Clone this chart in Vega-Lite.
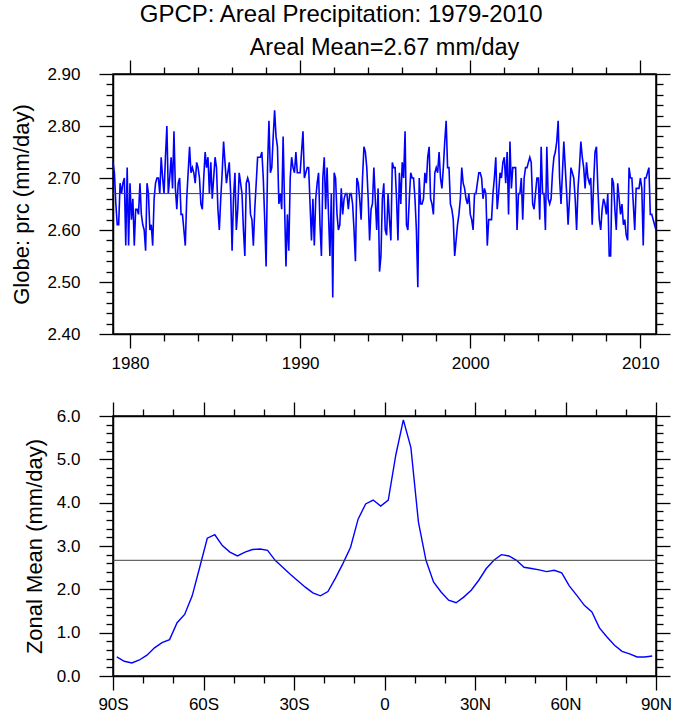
{
  "$schema": "https://vega.github.io/schema/vega-lite/v6.json",
  "padding": {"left": 10, "top": 3, "right": 20, "bottom": 5},
  "title": {"text": "GPCP: Areal Precipitation: 1979-2010", "fontSize": 24, "fontWeight": "normal", "font": "Liberation Sans", "color": "black", "anchor": "middle", "dx": 0, "offset": 8},
  "datasets": {
    "ts": [
      {"t":1979,"prc":2.73},{"t":1979.083,"prc":2.71},{"t":1979.167,"prc":2.65},{"t":1979.25,"prc":2.61},{"t":1979.333,"prc":2.61},{"t":1979.417,"prc":2.69},{"t":1979.5,"prc":2.67},{"t":1979.583,"prc":2.69},{"t":1979.667,"prc":2.70},{"t":1979.75,"prc":2.57},{"t":1979.833,"prc":2.72},{"t":1979.917,"prc":2.57},
      {"t":1980,"prc":2.69},{"t":1980.083,"prc":2.62},{"t":1980.167,"prc":2.66},{"t":1980.25,"prc":2.57},{"t":1980.333,"prc":2.64},{"t":1980.417,"prc":2.64},{"t":1980.5,"prc":2.63},{"t":1980.583,"prc":2.69},{"t":1980.667,"prc":2.63},{"t":1980.75,"prc":2.61},{"t":1980.833,"prc":2.60},{"t":1980.917,"prc":2.56},
      {"t":1981,"prc":2.69},{"t":1981.083,"prc":2.67},{"t":1981.167,"prc":2.60},{"t":1981.25,"prc":2.61},{"t":1981.333,"prc":2.57},{"t":1981.417,"prc":2.66},{"t":1981.5,"prc":2.69},{"t":1981.583,"prc":2.70},{"t":1981.667,"prc":2.70},{"t":1981.75,"prc":2.67},{"t":1981.833,"prc":2.74},{"t":1981.917,"prc":2.70},
      {"t":1982,"prc":2.67},{"t":1982.083,"prc":2.74},{"t":1982.167,"prc":2.80},{"t":1982.25,"prc":2.67},{"t":1982.333,"prc":2.70},{"t":1982.417,"prc":2.74},{"t":1982.5,"prc":2.68},{"t":1982.583,"prc":2.79},{"t":1982.667,"prc":2.68},{"t":1982.75,"prc":2.64},{"t":1982.833,"prc":2.69},{"t":1982.917,"prc":2.70},
      {"t":1983,"prc":2.63},{"t":1983.083,"prc":2.63},{"t":1983.167,"prc":2.60},{"t":1983.25,"prc":2.57},{"t":1983.333,"prc":2.66},{"t":1983.417,"prc":2.71},{"t":1983.5,"prc":2.76},{"t":1983.583,"prc":2.71},{"t":1983.667,"prc":2.72},{"t":1983.75,"prc":2.71},{"t":1983.833,"prc":2.69},{"t":1983.917,"prc":2.73},
      {"t":1984,"prc":2.72},{"t":1984.083,"prc":2.70},{"t":1984.167,"prc":2.65},{"t":1984.25,"prc":2.64},{"t":1984.333,"prc":2.70},{"t":1984.417,"prc":2.75},{"t":1984.5,"prc":2.72},{"t":1984.583,"prc":2.74},{"t":1984.667,"prc":2.67},{"t":1984.75,"prc":2.73},{"t":1984.833,"prc":2.66},{"t":1984.917,"prc":2.70},
      {"t":1985,"prc":2.74},{"t":1985.083,"prc":2.72},{"t":1985.167,"prc":2.64},{"t":1985.25,"prc":2.60},{"t":1985.333,"prc":2.66},{"t":1985.417,"prc":2.71},{"t":1985.5,"prc":2.77},{"t":1985.583,"prc":2.73},{"t":1985.667,"prc":2.69},{"t":1985.75,"prc":2.71},{"t":1985.833,"prc":2.73},{"t":1985.917,"prc":2.67},
      {"t":1986,"prc":2.56},{"t":1986.083,"prc":2.66},{"t":1986.167,"prc":2.71},{"t":1986.25,"prc":2.60},{"t":1986.333,"prc":2.64},{"t":1986.417,"prc":2.71},{"t":1986.5,"prc":2.69},{"t":1986.583,"prc":2.67},{"t":1986.667,"prc":2.60},{"t":1986.75,"prc":2.55},{"t":1986.833,"prc":2.69},{"t":1986.917,"prc":2.70},
      {"t":1987,"prc":2.69},{"t":1987.083,"prc":2.63},{"t":1987.167,"prc":2.62},{"t":1987.25,"prc":2.57},{"t":1987.333,"prc":2.64},{"t":1987.417,"prc":2.69},{"t":1987.5,"prc":2.74},{"t":1987.583,"prc":2.74},{"t":1987.667,"prc":2.74},{"t":1987.75,"prc":2.75},{"t":1987.833,"prc":2.70},{"t":1987.917,"prc":2.62},
      {"t":1988,"prc":2.53},{"t":1988.083,"prc":2.72},{"t":1988.167,"prc":2.81},{"t":1988.25,"prc":2.71},{"t":1988.333,"prc":2.72},{"t":1988.417,"prc":2.78},{"t":1988.5,"prc":2.83},{"t":1988.583,"prc":2.78},{"t":1988.667,"prc":2.76},{"t":1988.75,"prc":2.65},{"t":1988.833,"prc":2.67},{"t":1988.917,"prc":2.64},
      {"t":1989,"prc":2.78},{"t":1989.083,"prc":2.65},{"t":1989.167,"prc":2.53},{"t":1989.25,"prc":2.63},{"t":1989.333,"prc":2.56},{"t":1989.417,"prc":2.70},{"t":1989.5,"prc":2.74},{"t":1989.583,"prc":2.72},{"t":1989.667,"prc":2.71},{"t":1989.75,"prc":2.75},{"t":1989.833,"prc":2.71},{"t":1989.917,"prc":2.71},
      {"t":1990,"prc":2.71},{"t":1990.083,"prc":2.75},{"t":1990.167,"prc":2.79},{"t":1990.25,"prc":2.70},{"t":1990.333,"prc":2.71},{"t":1990.417,"prc":2.72},{"t":1990.5,"prc":2.72},{"t":1990.583,"prc":2.65},{"t":1990.667,"prc":2.58},{"t":1990.75,"prc":2.66},{"t":1990.833,"prc":2.57},{"t":1990.917,"prc":2.66},
      {"t":1991,"prc":2.69},{"t":1991.083,"prc":2.71},{"t":1991.167,"prc":2.61},{"t":1991.25,"prc":2.55},{"t":1991.333,"prc":2.70},{"t":1991.417,"prc":2.74},{"t":1991.5,"prc":2.64},{"t":1991.583,"prc":2.72},{"t":1991.667,"prc":2.63},{"t":1991.75,"prc":2.55},{"t":1991.833,"prc":2.67},{"t":1991.917,"prc":2.47},
      {"t":1992,"prc":2.71},{"t":1992.083,"prc":2.70},{"t":1992.167,"prc":2.63},{"t":1992.25,"prc":2.60},{"t":1992.333,"prc":2.61},{"t":1992.417,"prc":2.68},{"t":1992.5,"prc":2.63},{"t":1992.583,"prc":2.66},{"t":1992.667,"prc":2.67},{"t":1992.75,"prc":2.67},{"t":1992.833,"prc":2.64},{"t":1992.917,"prc":2.67},
      {"t":1993,"prc":2.67},{"t":1993.083,"prc":2.65},{"t":1993.167,"prc":2.60},{"t":1993.25,"prc":2.54},{"t":1993.333,"prc":2.70},{"t":1993.417,"prc":2.69},{"t":1993.5,"prc":2.66},{"t":1993.583,"prc":2.62},{"t":1993.667,"prc":2.70},{"t":1993.75,"prc":2.76},{"t":1993.833,"prc":2.75},{"t":1993.917,"prc":2.72},
      {"t":1994,"prc":2.66},{"t":1994.083,"prc":2.58},{"t":1994.167,"prc":2.64},{"t":1994.25,"prc":2.65},{"t":1994.333,"prc":2.72},{"t":1994.417,"prc":2.66},{"t":1994.5,"prc":2.60},{"t":1994.583,"prc":2.68},{"t":1994.667,"prc":2.52},{"t":1994.75,"prc":2.55},{"t":1994.833,"prc":2.66},{"t":1994.917,"prc":2.69},
      {"t":1995,"prc":2.60},{"t":1995.083,"prc":2.59},{"t":1995.167,"prc":2.67},{"t":1995.25,"prc":2.62},{"t":1995.333,"prc":2.58},{"t":1995.417,"prc":2.73},{"t":1995.5,"prc":2.72},{"t":1995.583,"prc":2.72},{"t":1995.667,"prc":2.66},{"t":1995.75,"prc":2.58},{"t":1995.833,"prc":2.71},{"t":1995.917,"prc":2.65},
      {"t":1996,"prc":2.73},{"t":1996.083,"prc":2.70},{"t":1996.167,"prc":2.79},{"t":1996.25,"prc":2.61},{"t":1996.333,"prc":2.60},{"t":1996.417,"prc":2.66},{"t":1996.5,"prc":2.71},{"t":1996.583,"prc":2.70},{"t":1996.667,"prc":2.70},{"t":1996.75,"prc":2.66},{"t":1996.833,"prc":2.60},{"t":1996.917,"prc":2.49},
      {"t":1997,"prc":2.70},{"t":1997.083,"prc":2.65},{"t":1997.167,"prc":2.65},{"t":1997.25,"prc":2.66},{"t":1997.333,"prc":2.71},{"t":1997.417,"prc":2.69},{"t":1997.5,"prc":2.74},{"t":1997.583,"prc":2.76},{"t":1997.667,"prc":2.66},{"t":1997.75,"prc":2.65},{"t":1997.833,"prc":2.63},{"t":1997.917,"prc":2.71},
      {"t":1998,"prc":2.72},{"t":1998.083,"prc":2.71},{"t":1998.167,"prc":2.75},{"t":1998.25,"prc":2.70},{"t":1998.333,"prc":2.68},{"t":1998.417,"prc":2.72},{"t":1998.5,"prc":2.77},{"t":1998.583,"prc":2.81},{"t":1998.667,"prc":2.72},{"t":1998.75,"prc":2.72},{"t":1998.833,"prc":2.65},{"t":1998.917,"prc":2.64},
      {"t":1999,"prc":2.62},{"t":1999.083,"prc":2.55},{"t":1999.167,"prc":2.58},{"t":1999.25,"prc":2.61},{"t":1999.333,"prc":2.63},{"t":1999.417,"prc":2.66},{"t":1999.5,"prc":2.72},{"t":1999.583,"prc":2.69},{"t":1999.667,"prc":2.68},{"t":1999.75,"prc":2.66},{"t":1999.833,"prc":2.65},{"t":1999.917,"prc":2.67},
      {"t":2000,"prc":2.63},{"t":2000.083,"prc":2.62},{"t":2000.167,"prc":2.60},{"t":2000.25,"prc":2.67},{"t":2000.333,"prc":2.67},{"t":2000.417,"prc":2.69},{"t":2000.5,"prc":2.71},{"t":2000.583,"prc":2.71},{"t":2000.667,"prc":2.70},{"t":2000.75,"prc":2.66},{"t":2000.833,"prc":2.68},{"t":2000.917,"prc":2.67},
      {"t":2001,"prc":2.57},{"t":2001.083,"prc":2.62},{"t":2001.167,"prc":2.62},{"t":2001.25,"prc":2.62},{"t":2001.333,"prc":2.67},{"t":2001.417,"prc":2.70},{"t":2001.5,"prc":2.74},{"t":2001.583,"prc":2.64},{"t":2001.667,"prc":2.67},{"t":2001.75,"prc":2.71},{"t":2001.833,"prc":2.70},{"t":2001.917,"prc":2.73},
      {"t":2002,"prc":2.74},{"t":2002.083,"prc":2.69},{"t":2002.167,"prc":2.75},{"t":2002.25,"prc":2.63},{"t":2002.333,"prc":2.77},{"t":2002.417,"prc":2.68},{"t":2002.5,"prc":2.72},{"t":2002.583,"prc":2.72},{"t":2002.667,"prc":2.72},{"t":2002.75,"prc":2.60},{"t":2002.833,"prc":2.67},{"t":2002.917,"prc":2.67},
      {"t":2003,"prc":2.70},{"t":2003.083,"prc":2.62},{"t":2003.167,"prc":2.70},{"t":2003.25,"prc":2.72},{"t":2003.333,"prc":2.72},{"t":2003.417,"prc":2.73},{"t":2003.5,"prc":2.74},{"t":2003.583,"prc":2.73},{"t":2003.667,"prc":2.65},{"t":2003.75,"prc":2.64},{"t":2003.833,"prc":2.67},{"t":2003.917,"prc":2.70},
      {"t":2004,"prc":2.70},{"t":2004.083,"prc":2.62},{"t":2004.167,"prc":2.76},{"t":2004.25,"prc":2.67},{"t":2004.333,"prc":2.67},{"t":2004.417,"prc":2.60},{"t":2004.5,"prc":2.76},{"t":2004.583,"prc":2.66},{"t":2004.667,"prc":2.65},{"t":2004.75,"prc":2.66},{"t":2004.833,"prc":2.71},{"t":2004.917,"prc":2.74},
      {"t":2005,"prc":2.75},{"t":2005.083,"prc":2.77},{"t":2005.167,"prc":2.81},{"t":2005.25,"prc":2.70},{"t":2005.333,"prc":2.65},{"t":2005.417,"prc":2.71},{"t":2005.5,"prc":2.77},{"t":2005.583,"prc":2.72},{"t":2005.667,"prc":2.67},{"t":2005.75,"prc":2.61},{"t":2005.833,"prc":2.66},{"t":2005.917,"prc":2.72},
      {"t":2006,"prc":2.71},{"t":2006.083,"prc":2.70},{"t":2006.167,"prc":2.66},{"t":2006.25,"prc":2.60},{"t":2006.333,"prc":2.68},{"t":2006.417,"prc":2.72},{"t":2006.5,"prc":2.77},{"t":2006.583,"prc":2.74},{"t":2006.667,"prc":2.72},{"t":2006.75,"prc":2.68},{"t":2006.833,"prc":2.73},{"t":2006.917,"prc":2.70},
      {"t":2007,"prc":2.69},{"t":2007.083,"prc":2.70},{"t":2007.167,"prc":2.61},{"t":2007.25,"prc":2.69},{"t":2007.333,"prc":2.75},{"t":2007.417,"prc":2.76},{"t":2007.5,"prc":2.68},{"t":2007.583,"prc":2.62},{"t":2007.667,"prc":2.60},{"t":2007.75,"prc":2.64},{"t":2007.833,"prc":2.66},{"t":2007.917,"prc":2.65},
      {"t":2008,"prc":2.63},{"t":2008.083,"prc":2.67},{"t":2008.167,"prc":2.55},{"t":2008.25,"prc":2.55},{"t":2008.333,"prc":2.70},{"t":2008.417,"prc":2.69},{"t":2008.5,"prc":2.64},{"t":2008.583,"prc":2.60},{"t":2008.667,"prc":2.69},{"t":2008.75,"prc":2.66},{"t":2008.833,"prc":2.63},{"t":2008.917,"prc":2.65},
      {"t":2009,"prc":2.61},{"t":2009.083,"prc":2.62},{"t":2009.167,"prc":2.59},{"t":2009.25,"prc":2.58},{"t":2009.333,"prc":2.72},{"t":2009.417,"prc":2.70},{"t":2009.5,"prc":2.70},{"t":2009.583,"prc":2.65},{"t":2009.667,"prc":2.60},{"t":2009.75,"prc":2.68},{"t":2009.833,"prc":2.68},{"t":2009.917,"prc":2.68},
      {"t":2010,"prc":2.70},{"t":2010.083,"prc":2.68},{"t":2010.167,"prc":2.57},{"t":2010.25,"prc":2.70},{"t":2010.333,"prc":2.70},{"t":2010.417,"prc":2.71},{"t":2010.5,"prc":2.72},{"t":2010.583,"prc":2.63},{"t":2010.667,"prc":2.63},{"t":2010.75,"prc":2.62},{"t":2010.833,"prc":2.61},{"t":2010.917,"prc":2.60}
    ],
    "zm": [
      {"lat":-88.75,"zonal":0.44},{"lat":-86.25,"zonal":0.34},{"lat":-83.75,"zonal":0.30},{"lat":-81.25,"zonal":0.37},{"lat":-78.75,"zonal":0.48},{"lat":-76.25,"zonal":0.65},{"lat":-73.75,"zonal":0.77},{"lat":-71.25,"zonal":0.84},{"lat":-68.75,"zonal":1.23},{"lat":-66.25,"zonal":1.42},{"lat":-63.75,"zonal":1.85},{"lat":-61.25,"zonal":2.51},
      {"lat":-58.75,"zonal":3.18},{"lat":-56.25,"zonal":3.26},{"lat":-53.75,"zonal":3.01},{"lat":-51.25,"zonal":2.86},{"lat":-48.75,"zonal":2.77},{"lat":-46.25,"zonal":2.86},{"lat":-43.75,"zonal":2.92},{"lat":-41.25,"zonal":2.93},{"lat":-38.75,"zonal":2.90},{"lat":-36.25,"zonal":2.67},{"lat":-33.75,"zonal":2.51},{"lat":-31.25,"zonal":2.35},
      {"lat":-28.75,"zonal":2.20},{"lat":-26.25,"zonal":2.05},{"lat":-23.75,"zonal":1.92},{"lat":-21.25,"zonal":1.85},{"lat":-18.75,"zonal":1.95},{"lat":-16.25,"zonal":2.26},{"lat":-13.75,"zonal":2.60},{"lat":-11.25,"zonal":2.97},{"lat":-8.75,"zonal":3.62},{"lat":-6.25,"zonal":3.97},{"lat":-3.75,"zonal":4.06},{"lat":-1.25,"zonal":3.92},
      {"lat":1.25,"zonal":4.06},{"lat":3.75,"zonal":5.10},{"lat":6.25,"zonal":5.91},{"lat":8.75,"zonal":5.27},{"lat":11.25,"zonal":3.55},{"lat":13.75,"zonal":2.67},{"lat":16.25,"zonal":2.17},{"lat":18.75,"zonal":1.94},{"lat":21.25,"zonal":1.75},{"lat":23.75,"zonal":1.69},{"lat":26.25,"zonal":1.82},{"lat":28.75,"zonal":1.98},
      {"lat":31.25,"zonal":2.21},{"lat":33.75,"zonal":2.48},{"lat":36.25,"zonal":2.67},{"lat":38.75,"zonal":2.80},{"lat":41.25,"zonal":2.77},{"lat":43.75,"zonal":2.67},{"lat":46.25,"zonal":2.51},{"lat":48.75,"zonal":2.48},{"lat":51.25,"zonal":2.45},{"lat":53.75,"zonal":2.41},{"lat":56.25,"zonal":2.44},{"lat":58.75,"zonal":2.38},
      {"lat":61.25,"zonal":2.08},{"lat":63.75,"zonal":1.86},{"lat":66.25,"zonal":1.63},{"lat":68.75,"zonal":1.48},{"lat":71.25,"zonal":1.11},{"lat":73.75,"zonal":0.90},{"lat":76.25,"zonal":0.71},{"lat":78.75,"zonal":0.57},{"lat":81.25,"zonal":0.51},{"lat":83.75,"zonal":0.44},{"lat":86.25,"zonal":0.44},{"lat":88.75,"zonal":0.46}
    ]
  },
  "spacing": 82,
  "bounds": "flush",
  "vconcat": [
    {
      "width": 543,
      "height": 260,
      "title": {"text": "Areal Mean=2.67 mm/day", "fontSize": 23.5, "fontWeight": "normal", "font": "Liberation Sans", "color": "black", "anchor": "middle", "offset": 0},
      "layer": [
        {
          "data": {"name": "ts"},
          "mark": {"type": "line", "color": "#0000ff", "strokeWidth": 1.6},
          "encoding": {
            "x": {"field": "t", "type": "quantitative", "scale": {"domain": [1979, 2010.917], "nice": false, "zero": false},
              "axis": {"orient": "bottom", "title": null, "values": [1980,1982,1984,1986,1988,1990,1992,1994,1996,1998,2000,2002,2004,2006,2008,2010], "format": "d", "labelExpr": "datum.value % 10 == 0 ? datum.label : ''", "tickSize": {"condition": {"test": "datum.value % 10 == 0", "value": 14}, "value": 7}, "labelFontSize": 17, "labelPadding": 7, "labelOverlap": false, "labelFlush": false}},
            "y": {"field": "prc", "type": "quantitative", "scale": {"domain": [2.4, 2.9], "nice": false, "zero": false},
              "axis": {"orient": "left", "title": "Globe: prc (mm/day)", "titleFontSize": 22, "titlePadding": 13, "values": [2.40,2.42,2.44,2.46,2.48,2.50,2.52,2.54,2.56,2.58,2.60,2.62,2.64,2.66,2.68,2.70,2.72,2.74,2.76,2.78,2.80,2.82,2.84,2.86,2.88,2.90], "format": ".2f", "labelExpr": "abs(datum.value*10 - round(datum.value*10)) < 0.001 ? datum.label : ''", "tickSize": {"condition": {"test": "abs(datum.value*10 - round(datum.value*10)) < 0.001", "value": 14}, "value": 7}, "labelFontSize": 17, "labelPadding": 19, "labelOverlap": false, "labelFlush": false}}
          }
        },
        {
          "data": {"values": [{"x0": 1979, "x1": 2010.917, "m": 2.67}]},
          "mark": {"type": "rule", "color": "#404040", "strokeWidth": 1},
          "encoding": {
            "x": {"field": "x0", "type": "quantitative", "scale": {"domain": [1979, 2010.917], "nice": false, "zero": false},
              "axis": {"orient": "top", "title": null, "values": [1980,1982,1984,1986,1988,1990,1992,1994,1996,1998,2000,2002,2004,2006,2008,2010], "labels": false, "tickSize": {"condition": {"test": "datum.value % 10 == 0", "value": 14}, "value": 7}}},
            "x2": {"field": "x1"},
            "y": {"field": "m", "type": "quantitative", "scale": {"domain": [2.4, 2.9], "nice": false, "zero": false},
              "axis": {"orient": "right", "title": null, "values": [2.40,2.42,2.44,2.46,2.48,2.50,2.52,2.54,2.56,2.58,2.60,2.62,2.64,2.66,2.68,2.70,2.72,2.74,2.76,2.78,2.80,2.82,2.84,2.86,2.88,2.90], "labels": false, "tickSize": {"condition": {"test": "abs(datum.value*10 - round(datum.value*10)) < 0.001", "value": 14}, "value": 7}}}
          }
        }
      ],
      "resolve": {"axis": {"x": "independent", "y": "independent"}}
    },
    {
      "width": 543,
      "height": 260,
      "layer": [
        {
          "data": {"name": "zm"},
          "mark": {"type": "line", "color": "#0000ff", "strokeWidth": 1.4},
          "encoding": {
            "x": {"field": "lat", "type": "quantitative", "scale": {"domain": [-90, 90], "nice": false, "zero": false},
              "axis": {"orient": "bottom", "title": null, "values": [-90,-80,-70,-60,-50,-40,-30,-20,-10,0,10,20,30,40,50,60,70,80,90], "labelExpr": "datum.value % 30 != 0 ? '' : (datum.value == 0 ? '0' : (datum.value < 0 ? (-datum.value) + 'S' : datum.value + 'N'))", "tickSize": {"condition": {"test": "datum.value % 30 == 0", "value": 14}, "value": 7}, "labelFontSize": 17, "labelPadding": 6, "labelOverlap": false, "labelFlush": false}},
            "y": {"field": "zonal", "type": "quantitative", "scale": {"domain": [0, 6], "nice": false, "zero": false},
              "axis": {"orient": "left", "title": "Zonal Mean (mm/day)", "titleFontSize": 22, "titlePadding": 10, "values": [0,0.2,0.4,0.6,0.8,1,1.2,1.4,1.6,1.8,2,2.2,2.4,2.6,2.8,3,3.2,3.4,3.6,3.8,4,4.2,4.4,4.6,4.8,5,5.2,5.4,5.6,5.8,6], "format": ".1f", "labelExpr": "abs(datum.value - round(datum.value)) < 0.001 ? datum.label : ''", "tickSize": {"condition": {"test": "abs(datum.value - round(datum.value)) < 0.001", "value": 14}, "value": 7}, "labelFontSize": 17, "labelPadding": 19, "labelOverlap": false, "labelFlush": false}}
          }
        },
        {
          "data": {"values": [{"x0": -90, "x1": 90, "m": 2.67}]},
          "mark": {"type": "rule", "color": "#404040", "strokeWidth": 1},
          "encoding": {
            "x": {"field": "x0", "type": "quantitative", "scale": {"domain": [-90, 90], "nice": false, "zero": false},
              "axis": {"orient": "top", "title": null, "values": [-90,-80,-70,-60,-50,-40,-30,-20,-10,0,10,20,30,40,50,60,70,80,90], "labels": false, "tickSize": {"condition": {"test": "datum.value % 30 == 0", "value": 14}, "value": 7}}},
            "x2": {"field": "x1"},
            "y": {"field": "m", "type": "quantitative", "scale": {"domain": [0, 6], "nice": false, "zero": false},
              "axis": {"orient": "right", "title": null, "values": [0,0.2,0.4,0.6,0.8,1,1.2,1.4,1.6,1.8,2,2.2,2.4,2.6,2.8,3,3.2,3.4,3.6,3.8,4,4.2,4.4,4.6,4.8,5,5.2,5.4,5.6,5.8,6], "labels": false, "tickSize": {"condition": {"test": "abs(datum.value - round(datum.value)) < 0.001", "value": 14}, "value": 7}}}
          }
        }
      ],
      "resolve": {"axis": {"x": "independent", "y": "independent"}}
    }
  ],
  "config": {
    "font": "Liberation Sans",
    "view": {"stroke": "black", "strokeWidth": 1.5},
    "axis": {"grid": false, "domainColor": "black", "domainWidth": 1.5, "tickColor": "black", "tickWidth": 1.3, "labelColor": "black", "titleColor": "black", "labelFont": "Liberation Sans", "titleFont": "Liberation Sans", "titleFontWeight": "normal"}
  }
}
